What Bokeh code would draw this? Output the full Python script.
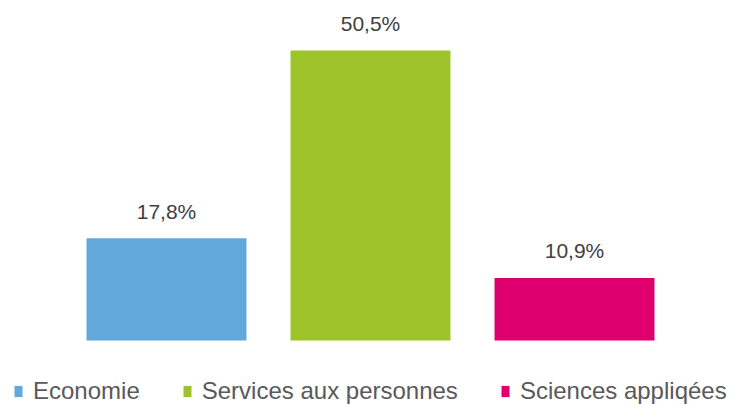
from bokeh.plotting import figure
from bokeh.models import ColumnDataSource, Legend, LegendItem, Range1d, FactorRange
from bokeh.core.properties import value
from bokeh.embed import file_html
from bokeh.resources import INLINE

categories = ["Economie", "Services aux personnes", "Sciences appliqées"]
values = [17.8, 50.5, 10.9]
labels = ["17,8%", "50,5%", "10,9%"]
colors = ["#62A8DC", "#9DC42B", "#DF006F"]

src = ColumnDataSource(dict(cat=categories, val=values, lab=labels, col=colors))

p = figure(width=740, height=405,
           x_range=FactorRange(*categories, range_padding=0.3137,
                               range_padding_units="absolute"),
           y_range=Range1d(-11.32, 59.21),
           output_backend="svg", toolbar_location=None,
           min_border_left=0, min_border_right=0,
           min_border_top=0, min_border_bottom=0)

r = p.vbar(x="cat", top="val", width=0.784, bottom=0, fill_color="col",
           line_color=None, source=src)

p.text(x="cat", y="val", text="lab", source=src, text_align="center",
       text_baseline="alphabetic", y_offset=-27,
       text_font=value("Liberation Sans"), text_font_size="21px",
       text_color="#404040")

p.xaxis.visible = False
p.yaxis.visible = False
p.xgrid.visible = False
p.ygrid.visible = False
p.outline_line_color = None

legend = Legend(items=[LegendItem(label=c, renderers=[r], index=i)
                       for i, c in enumerate(categories)],
                orientation="horizontal", location=(13, 0),
                padding=0, margin=0, spacing=42,
                glyph_width=10, glyph_height=14, label_standoff=10,
                label_height=26,
                label_text_font="Liberation Sans", label_text_font_size="24px",
                label_text_color="#595959",
                border_line_color=None, background_fill_alpha=0)
p.add_layout(legend, "center")

open("out.html", "w").write(file_html(p, INLINE))
